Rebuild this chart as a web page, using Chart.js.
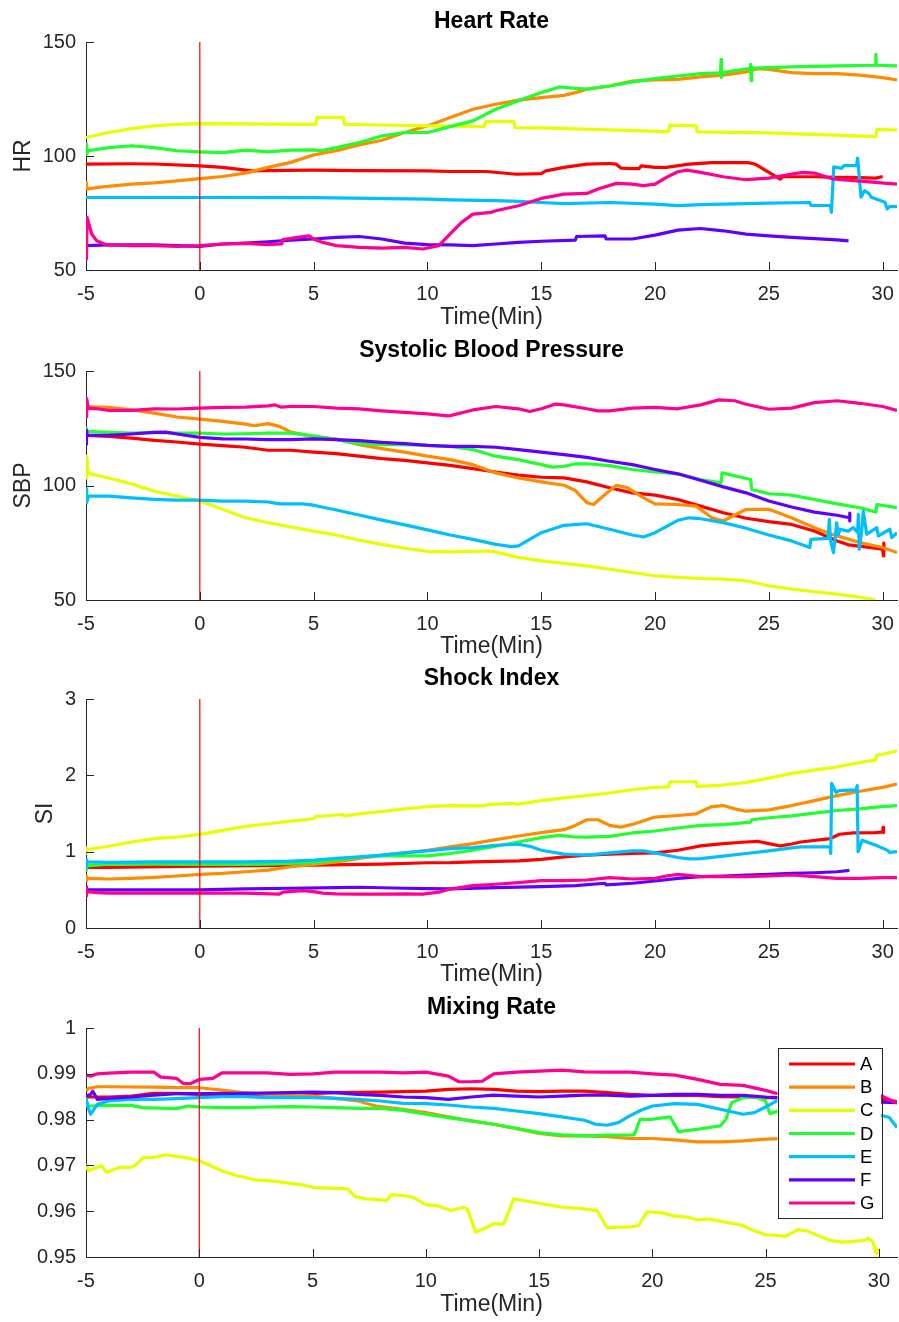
<!DOCTYPE html>
<html>
<head>
<meta charset="utf-8">
<script src="https://cdn.jsdelivr.net/npm/chart.js@4.4.0/dist/chart.umd.min.js"></script>
<style>
  body { margin: 0; background: #fff; overflow: hidden; }
  .panel { position: absolute; left: 0; }
</style>
</head>
<body>
<canvas id="hr" class="panel" width="899" height="329" style="top:0"></canvas>
<canvas id="sbp" class="panel" width="899" height="329" style="top:329px"></canvas>
<canvas id="si" class="panel" width="899" height="329" style="top:657px"></canvas>
<canvas id="mr" class="panel" width="899" height="336" style="top:986px"></canvas>
<script>
// ---- data ----
const seriesNames = ['A', 'B', 'C', 'D', 'E', 'F', 'G'];
const seriesColors = ['#ff0000', '#ff8c00', '#e6ff00', '#1eff2d', '#00bfff', '#6000ff', '#ff0090'];
const xTicks = [-5, 0, 5, 10, 15, 20, 25, 30];
const hrTicks = [50, 100, 150];
const sbpTicks = [50, 100, 150];
const siTicks = [0, 1, 2, 3];
const mrTicks = [0.95, 0.96, 0.97, 0.98, 0.99, 1];
const eventTime = 0;

// Heart Rate  [time, value]
const hrA = [[-5,96.4],[-3,96.6],[-2,96.5],[0,95.7],[1,95.0],[2.3,93.5],[2.8,93.6],[5,93.8],[7,93.6],[10,93.5],[11,93.2],[12.6,93.2],[13.9,92.0],[15,92.3],[15.2,93.5],[16,95.0],[17,96.4],[18,96.7],[18.3,96.4],[18.5,94.7],[19,94.5],[19.3,94.5],[19.4,95.7],[20,95.0],[20.5,95.0],[21.5,96.4],[22.5,97.1],[24.1,97.1],[24.4,96.4],[25,92.8],[25.5,89.9],[25.6,90.9],[27,90.9],[28,90.6],[29,90.5],[29.7,90.3],[30.0,91.0]];
const hrB = [[-5,89],[-4.95,85.5],[-4.5,86.2],[-3,87.7],[-2,88.2],[-1,89.1],[0,90.1],[1,91.0],[2,92.5],[3,95.0],[4,97.2],[5,100.5],[6,102.3],[7,104.9],[8,106.9],[9,110.3],[10,113.2],[11,116.9],[12,120.5],[13,122.7],[14,124.5],[15,125.6],[16,126.6],[16.5,127.8],[17,129.3],[18,130.7],[19,132.9],[20,133.4],[21,133.6],[22,134.7],[23,135.5],[24,136.9],[24.5,138.3],[25,138.0],[26,136.6],[27,136.1],[28,136.1],[29,135.5],[30,134.4],[30.63,133.4]];
const hrC = [[-5,108.1],[-4,110.3],[-3,112.0],[-2,113.2],[-1,113.9],[0,114.2],[5.1,113.9],[5.15,116.9],[6.3,116.9],[6.35,113.9],[8,113.6],[10,113.2],[12.5,112.9],[12.55,115.1],[13.8,115.1],[13.85,112.5],[15,112.3],[20.6,110.7],[20.65,113.5],[21.8,113.2],[21.85,110.6],[25,110.1],[29.7,108.5],[29.75,111.7],[30.63,111.4]];
const hrD = [[-5,105.2],[-4.97,100.8],[-4.9,102.3],[-4,103.7],[-3,104.5],[-2,103.7],[-1,102.3],[0,101.8],[1,101.5],[2,102.6],[3,101.8],[4,102.6],[5,102.7],[5.3,102.3],[6,103.7],[7,105.9],[8,108.8],[9,110.3],[10,110.3],[11,112.9],[12,115.4],[13,120.5],[14,124.2],[15,127.8],[15.8,130.3],[16.5,129.7],[17,129.3],[18,130.7],[19,132.5],[20,133.9],[21,135.1],[22,136.1],[22.88,136.5],[22.9,142.4],[22.92,134.5],[22.95,136.6],[24.18,138.5],[24.2,140.2],[24.22,133.0],[24.25,138.6],[25,138.8],[26,139.1],[28,139.5],[29.68,139.8],[29.7,144.6],[29.72,139.8],[30.63,139.5]];
const hrE = [[-5,81.8],[0,81.8],[5,81.7],[10,81.1],[11,80.8],[13,80.4],[14,80.1],[15,79.6],[16,79.1],[18,79.6],[20,78.9],[21,78.2],[22,78.7],[25,79.3],[26.8,79.6],[26.85,78.3],[27.7,78.3],[27.75,75.3],[27.85,95.2],[28.2,94.6],[28.3,95.8],[28.85,95.8],[28.9,99.1],[29.05,81.9],[29.2,84.8],[29.4,83.5],[29.5,81.9],[30.1,79.7],[30.2,76.8],[30.3,77.8],[30.63,77.8]];
const hrF = [[-5,60.7],[-4,61.0],[-2,61.0],[0,60.4],[1,61.4],[2,61.8],[3,62.4],[4,63.1],[5,63.6],[6,64.3],[7,64.7],[8,63.6],[9,61.8],[10,61.1],[11,61.0],[12,60.7],[13,61.4],[14,62.1],[15,62.6],[16.5,63.1],[16.55,64.7],[17.8,65.0],[17.85,63.6],[19,63.6],[20,65.3],[21,67.5],[22,68.2],[23,67.2],[24,65.7],[25,65.0],[26,64.3],[27,63.8],[28,63.2],[28.5,62.8]];
const hrG = [[-5,58],[-4.98,54.8],[-4.95,73.1],[-4.75,65.8],[-4.53,62.8],[-4.09,61.0],[-3,60.7],[-2,60.7],[-1,60.4],[0,60.7],[1,61.4],[2,61.7],[3,61.1],[3.6,61.4],[3.65,63.3],[4.3,64.3],[4.8,65.0],[5,63.6],[5.4,62.1],[6,60.7],[7,59.9],[8,59.6],[9,59.9],[9.8,59.2],[10.5,60.7],[11,65.8],[11.5,70.9],[12,74.5],[12.8,75.3],[13,76.0],[14,78.2],[15,81.4],[16,83.3],[17,83.6],[17.5,85.5],[18.3,88.0],[19,87.7],[19.5,87.0],[20,87.7],[20.5,90.6],[21,93.1],[21.4,93.8],[22,92.8],[23,90.9],[24,89.6],[25,90.3],[26,92.1],[26.5,92.8],[27,92.5],[27.8,89.9],[29,89.0],[30.63,87.7]];

// Systolic Blood Pressure
const sbpA = [[-5,121.9],[-4,121.4],[-3,120.7],[-2,119.7],[-1,119.0],[0,118.1],[1,117.4],[2,116.7],[3,115.4],[4,115.4],[5,114.6],[6,113.9],[7,112.8],[8,111.7],[9,111.0],[10,109.9],[11,108.8],[12,107.4],[13,105.9],[14,104.5],[15,103.6],[16,103.3],[17,101.6],[18,99.0],[19,96.8],[20,95.8],[21,93.9],[22,91.0],[23,88.1],[24,85.7],[25,84.2],[26,83.0],[27,80.1],[28,75.8],[28.5,74.1],[29.5,72.9],[30,72.2],[30.03,69.3],[30.05,74.8],[30.07,72.0]];
const sbpB = [[-5,134.5],[-4,134.1],[-3,133.0],[-2,131.6],[-1,129.9],[0,129.0],[1,128.0],[2,126.8],[2.4,126.1],[3,127.0],[3.5,125.8],[4,123.3],[5,121.4],[6,120.3],[7,117.8],[8,116.1],[9,114.6],[10,112.8],[11,111.3],[12,109.1],[13,105.5],[14,103.3],[15,101.6],[16,100.1],[16.5,97.8],[17,92.5],[17.3,91.7],[17.8,96.1],[18.3,100.1],[18.8,99.0],[19.5,94.6],[20,92.0],[21,91.7],[21.8,91.0],[22.5,85.9],[23,84.5],[23.5,87.1],[24,89.6],[25,89.6],[26,85.9],[27,81.6],[28,78.0],[29,75.1],[30,72.9],[30.63,70.7]];
const sbpC = [[-5,103.3],[-4.97,112.8],[-4.9,106.0],[-4.8,105.1],[-4,103.3],[-3,100.7],[-2,97.5],[-1,95.4],[0,93.2],[1,89.6],[2,85.9],[3,83.8],[4,81.9],[5,80.1],[6,78.4],[7,76.1],[8,74.3],[9,72.6],[10,71.2],[11,71.0],[12,71.2],[12.6,71.4],[13,71.0],[14,68.6],[15,67.1],[17,64.9],[19,62.0],[20,60.6],[21,59.9],[22,59.4],[23,59.1],[24,58.4],[25,56.2],[26,54.8],[27,53.6],[28,52.6],[29,51.2],[29.7,50.0]];
const sbpD = [[-5,125.0],[-4.97,123.6],[-4,123.2],[-3,122.9],[-2,123.2],[-1,122.9],[0,122.9],[1,122.5],[2,122.6],[3,122.9],[4,122.9],[5,121.7],[6,120.0],[7,118.3],[8,117.8],[9,117.8],[10,117.5],[11,117.1],[12,115.7],[13,112.8],[14,111.3],[15,109.1],[15.5,108.0],[16,108.4],[16.5,109.4],[17,109.5],[18,108.7],[19,107.0],[20,105.9],[21,105.1],[22,102.6],[22.9,101.2],[22.95,105.5],[24.2,102.6],[24.25,98.3],[25,96.4],[26,95.8],[27,93.9],[28,92.0],[29,90.3],[29.7,88.4],[29.75,91.7],[30.63,90.3]];
const sbpE = [[-5,95.4],[-4.98,98.5],[-4.96,92.5],[-4.9,95.4],[-4,95.4],[-3,94.6],[-2,93.9],[-1,93.6],[0,93.6],[1,93.2],[2,93.2],[3,92.8],[3.5,92.0],[4.5,92.0],[5,91.4],[6,89.3],[7,87.1],[8,84.9],[9,82.8],[10,80.6],[11,78.4],[12,76.5],[13,74.3],[13.7,73.3],[14,73.6],[15,79.4],[16,82.6],[17,83.3],[18,80.9],[19,78.4],[19.5,77.5],[20,79.4],[21,84.8],[21.5,85.9],[22,85.5],[23,83.8],[24,81.3],[25,78.4],[26,75.8],[26.8,72.9],[26.85,76.5],[27.6,76.9],[27.66,85.2],[27.7,76.5],[27.84,70.7],[27.98,83.7],[28.05,78.5],[28.13,80.9],[28.49,80.1],[28.71,81.6],[28.9,79.5],[28.93,87.4],[28.97,72.2],[29.07,79.4],[29.15,88.8],[29.3,78.7],[29.74,81.6],[29.81,78.0],[30.32,80.9],[30.4,77.2],[30.63,79.4]];
const sbpF = [[-5,118.0],[-4.98,124.0],[-4.95,121.9],[-4,121.9],[-3,122.5],[-2,123.2],[-1.5,123.3],[-1,122.5],[0,121.0],[1,120.4],[2,120.3],[3,120.0],[4,120.0],[5,120.4],[6,120.0],[7,119.6],[8,118.8],[9,118.3],[10,117.5],[11,117.1],[12,117.1],[13,116.7],[14,115.7],[15,114.6],[16,113.5],[17,112.3],[18,110.6],[19,109.1],[20,107.0],[21,105.1],[22,102.3],[23,99.4],[24,96.8],[25,93.2],[26,90.6],[27,88.4],[28,87.0],[28.54,85.9],[28.55,88.0],[28.56,84.5]];
const sbpG = [[-5,130.0],[-4.97,138.0],[-4.9,133.8],[-4.5,133.5],[-4,132.8],[-3,132.8],[-2,133.5],[-1,133.4],[0,133.8],[1,134.1],[2,134.2],[3,134.8],[3.3,135.2],[3.6,134.2],[4,134.6],[5,134.5],[6,133.8],[7,133.5],[8,132.6],[9,131.9],[10,131.3],[10.9,130.4],[11,130.5],[12,133.0],[13,134.5],[14,133.5],[14.5,132.3],[15,133.5],[15.6,135.5],[16,135.2],[17,133.5],[17.5,132.6],[18,132.6],[19,133.8],[20,134.1],[21,133.5],[22,135.2],[22.8,137.4],[23.5,137.0],[24,135.5],[25,133.3],[26,133.8],[27,136.2],[28,137.0],[29,135.9],[30,134.5],[30.63,132.8]];

// Shock Index
const siA = [[-5,0.794],[-4,0.794],[0,0.811],[5,0.824],[8,0.837],[10,0.855],[11,0.857],[12,0.867],[14,0.880],[15,0.898],[16,0.932],[17,0.954],[18,0.967],[19,0.976],[20,0.984],[21,1.019],[22,1.075],[23,1.106],[24,1.127],[24.5,1.136],[25,1.106],[25.5,1.075],[26,1.10],[26.4,1.127],[27.7,1.172],[28.1,1.228],[28.7,1.245],[29.7,1.250],[30,1.258],[30.02,1.32],[30.04,1.25]];
const siB = [[-5,0.62],[-4.98,0.68],[-4.95,0.651],[-4,0.642],[-3,0.651],[-2,0.664],[-1,0.681],[0,0.703],[1,0.716],[2,0.737],[3,0.759],[4,0.802],[5,0.833],[6,0.867],[7,0.911],[8,0.954],[9,0.984],[10,1.019],[11,1.062],[12,1.106],[13,1.158],[14,1.205],[15,1.249],[16,1.288],[16.5,1.344],[17,1.418],[17.5,1.418],[18,1.344],[18.5,1.322],[19,1.357],[20,1.453],[21,1.474],[21.8,1.496],[22.5,1.591],[23,1.604],[23.5,1.561],[24,1.530],[25,1.548],[26,1.604],[27,1.669],[28,1.734],[29,1.791],[30,1.843],[30.63,1.886]];
const siC = [[-5,0.98],[-4.98,1.05],[-4.95,1.028],[-4,1.071],[-3,1.127],[-2,1.171],[-1,1.192],[0,1.227],[1,1.279],[2,1.331],[3,1.366],[4,1.401],[5,1.431],[5.1,1.461],[6.3,1.487],[6.35,1.468],[7,1.496],[8,1.526],[9,1.561],[10,1.591],[11,1.604],[12.5,1.600],[12.6,1.617],[13.8,1.634],[13.9,1.620],[15,1.669],[16,1.704],[17,1.734],[18,1.769],[19,1.812],[20,1.843],[20.6,1.850],[20.65,1.916],[21.8,1.916],[21.85,1.856],[23,1.873],[24,1.908],[25,1.964],[26,2.025],[27,2.068],[28,2.111],[29,2.168],[29.7,2.202],[29.75,2.263],[30,2.276],[30.63,2.319]];
const siD = [[-5,0.76],[-4.98,0.87],[-4.95,0.815],[-4,0.837],[-2,0.837],[0,0.833],[2,0.833],[3,0.837],[4,0.846],[5,0.859],[6,0.889],[7,0.924],[8,0.945],[9,0.945],[10,0.945],[11,0.976],[12,1.019],[13,1.071],[14,1.127],[15,1.184],[15.8,1.214],[16.5,1.192],[17,1.190],[18,1.201],[19,1.245],[20,1.271],[21,1.310],[22,1.344],[23,1.353],[24.2,1.388],[24.25,1.418],[25,1.444],[26,1.470],[27,1.504],[28,1.539],[29,1.561],[29.7,1.583],[30.63,1.604]];
const siE = [[-5,0.80],[-4.98,0.90],[-4.95,0.867],[-4,0.859],[-2,0.867],[0,0.867],[2,0.867],[4,0.876],[5,0.889],[6,0.911],[7,0.932],[8,0.954],[9,0.984],[10,1.010],[11,1.041],[12,1.054],[13,1.084],[14,1.097],[14.5,1.070],[15,1.019],[16,0.967],[17,0.954],[18,0.984],[19,1.010],[19.5,1.010],[20,0.984],[21,0.924],[21.5,0.906],[22,0.910],[23,0.941],[24,0.976],[25,1.010],[26,1.049],[26.4,1.062],[27.69,1.062],[27.72,0.976],[27.76,1.895],[27.95,1.778],[28.1,1.80],[28.83,1.809],[28.88,1.865],[28.92,1.0],[29.1,1.15],[29.7,1.085],[30.2,1.02],[30.3,0.99],[30.63,1.0]];
const siF = [[-5,0.47],[-4.98,0.54],[-4.95,0.499],[-2,0.499],[0,0.499],[2,0.512],[4,0.521],[6,0.529],[7,0.534],[9,0.521],[10,0.516],[11,0.512],[13,0.529],[15,0.542],[16.5,0.555],[17.8,0.586],[17.85,0.565],[19,0.586],[20,0.616],[21,0.651],[22,0.672],[23,0.681],[24,0.694],[25,0.703],[26,0.716],[27,0.724],[28,0.737],[28.54,0.755]];
const siG = [[-5,0.42],[-4.98,0.52],[-4.95,0.477],[-4.5,0.464],[-4,0.456],[-2,0.456],[0,0.456],[2,0.456],[3.5,0.443],[3.65,0.47],[4.5,0.490],[5,0.477],[5.4,0.456],[6,0.447],[7,0.443],[8,0.443],[9,0.447],[9.8,0.443],[10.5,0.469],[11,0.51],[12,0.555],[13,0.573],[14,0.594],[15,0.620],[16,0.620],[17,0.629],[18,0.659],[19,0.642],[20,0.651],[20.5,0.681],[21,0.703],[22,0.672],[23,0.672],[24,0.672],[25,0.681],[26,0.694],[27,0.672],[28,0.651],[29,0.651],[30,0.659],[30.63,0.659]];

// Mixing Rate
const mrA = [[-5,0.98493],[-4,0.98493],[-3,0.98514],[-2,0.98572],[-1,0.98572],[0,0.98551],[2,0.98536],[4,0.98551],[6,0.98587],[8,0.98601],[10,0.98623],[11,0.98659],[12,0.98674],[13,0.98659],[14,0.98623],[15,0.98609],[16,0.98623],[17,0.98623],[18,0.98587],[19,0.98551],[20,0.98529],[22,0.98529],[23,0.98500],[24,0.98493],[25,0.98478],[26,0.98470],[28,0.98460],[30.1,0.98450],[30.8,0.98390]];
const mrB = [[-5,0.98620],[-4.9,0.98681],[-4.5,0.98717],[-4,0.98717],[-2,0.98710],[-1,0.98696],[0,0.98696],[1,0.98645],[2,0.98587],[3,0.98551],[4,0.98536],[5,0.98514],[6,0.98464],[7,0.98406],[7.8,0.98297],[9,0.98225],[10,0.98152],[11,0.98058],[12,0.97971],[13,0.97899],[14,0.97804],[15,0.97696],[16,0.97645],[17,0.97645],[18,0.97630],[19,0.97587],[20,0.97587],[21,0.97558],[22,0.97514],[23,0.97514],[24,0.97536],[25,0.97572],[26,0.97590],[27,0.97610]];
const mrC = [[-5,0.97029],[-4.9,0.96884],[-4.7,0.96920],[-4.31,0.96993],[-4.1,0.96848],[-3.5,0.96957],[-3,0.96957],[-2.76,0.97029],[-2.47,0.97174],[-2,0.97174],[-1.49,0.97232],[-1,0.97196],[-0.49,0.97160],[0,0.97101],[0.5,0.96993],[1,0.96884],[1.5,0.96797],[2,0.96739],[2.5,0.96681],[3,0.96667],[3.5,0.96645],[4,0.96609],[4.5,0.96580],[5,0.96522],[6,0.96500],[6.57,0.96486],[6.87,0.96319],[7.38,0.96268],[8,0.96254],[8.26,0.96232],[8.49,0.96362],[9,0.96341],[9.44,0.96304],[10,0.96145],[10.47,0.96123],[11.09,0.96014],[11.68,0.96087],[11.83,0.96051],[12.2,0.95543],[12.56,0.95616],[13.0,0.95725],[13.44,0.95725],[13.88,0.96268],[14.47,0.96217],[15,0.96174],[16,0.96087],[17,0.96051],[17.56,0.96014],[18.0,0.95638],[18.58,0.95652],[19.0,0.95652],[19.39,0.95688],[19.76,0.95978],[20,0.95978],[20.49,0.95957],[21,0.95891],[21.52,0.95870],[22,0.95812],[22.47,0.95833],[23,0.95783],[24,0.95688],[24.46,0.95580],[25,0.95486],[25.53,0.95471],[25.85,0.95449],[26.44,0.95601],[26.85,0.95565],[27.85,0.95362],[28.35,0.95326],[28.85,0.95341],[29.38,0.95362],[29.52,0.95413],[29.74,0.95326],[29.89,0.95072],[29.99,0.95196]];
const mrD = [[-5,0.98297],[-4.8,0.98297],[-4,0.98312],[-3,0.98312],[-2.5,0.98261],[-1,0.98239],[-0.5,0.98297],[0,0.98275],[1,0.98261],[2,0.98261],[3,0.98275],[4,0.98283],[5,0.98275],[6,0.98261],[7,0.98246],[8,0.98246],[9,0.98203],[10,0.98116],[11,0.98043],[12,0.97971],[13,0.97899],[14,0.97812],[15,0.97717],[16,0.97667],[17,0.97645],[18,0.97659],[19.2,0.97667],[19.46,0.98007],[20,0.98007],[20.79,0.98058],[21.15,0.97739],[22,0.97790],[23,0.97862],[23.25,0.98007],[23.5,0.98370],[24,0.98478],[24.6,0.98493],[25,0.98406],[25.19,0.98130],[25.5,0.98180],[27,0.98350],[29,0.98500],[30.1,0.98565]];
const mrE = [[-5,0.98478],[-4.9,0.98260],[-4.8,0.98116],[-4.5,0.98333],[-4,0.98406],[-3,0.98442],[-2,0.98442],[-1,0.98457],[0,0.98478],[1,0.98500],[2,0.98500],[3,0.98478],[4,0.98478],[5,0.98478],[6,0.98464],[7,0.98442],[8,0.98406],[9,0.98355],[10,0.98348],[11,0.98319],[12,0.98275],[13,0.98246],[14,0.98188],[15,0.98130],[16,0.98058],[17,0.97986],[17.5,0.97899],[18,0.97877],[18.5,0.97935],[19,0.98080],[19.5,0.98203],[20,0.98297],[21,0.98348],[22,0.98333],[23,0.98225],[24,0.98116],[24.5,0.98152],[25,0.98275],[25.53,0.98420],[27,0.98550],[28.5,0.98450],[29.5,0.98280],[30.1,0.98090],[30.45,0.98050],[30.8,0.97830]];
const mrF = [[-5,0.98514],[-4.8,0.98550],[-4.7,0.98620],[-4.5,0.98442],[-4,0.98464],[-3,0.98493],[-2,0.98536],[-1,0.98565],[0,0.98565],[2,0.98572],[4,0.98587],[5,0.98601],[6,0.98587],[7,0.98551],[8,0.98529],[9,0.98493],[10,0.98478],[11,0.98442],[12,0.98493],[13,0.98536],[14,0.98514],[15,0.98493],[16,0.98514],[17,0.98536],[18,0.98536],[19,0.98514],[20,0.98529],[21,0.98551],[22,0.98551],[23,0.98529],[24,0.98529],[25,0.98493],[27,0.98450],[29,0.98400],[30.1,0.98380],[30.8,0.98370]];
const mrG = [[-5,0.98971],[-4.8,0.98949],[-4.5,0.99000],[-4,0.99014],[-3,0.99036],[-2,0.99036],[-1.7,0.98928],[-1,0.98899],[-0.7,0.98790],[-0.4,0.98783],[0,0.98877],[0.6,0.98899],[1,0.99022],[2,0.99022],[3,0.99022],[4,0.98986],[5,0.99000],[6,0.99036],[7,0.99036],[8,0.99036],[9,0.99022],[10,0.99036],[11,0.98949],[11.46,0.98826],[12,0.98826],[12.5,0.98841],[13,0.99000],[14,0.99036],[15,0.99058],[16,0.99080],[17,0.99043],[18,0.99036],[19,0.99036],[20,0.99000],[21,0.98971],[22,0.98877],[23,0.98768],[24,0.98746],[25,0.98638],[25.53,0.98565],[27,0.98540],[29,0.98530],[30.1,0.98520],[30.8,0.98360]];

// ---- drawing ----
const FONT = '"Liberation Sans", Arial, Helvetica, sans-serif';
const AXIS = '#262626';

// MATLAB-style ticks pointing into the plot
const inwardTicks = {
  id: 'inwardTicks',
  afterDatasetsDraw(chart) {
    const {ctx, chartArea, scales} = chart;
    ctx.save();
    ctx.strokeStyle = AXIS;
    ctx.lineWidth = 1;
    ctx.beginPath();
    scales.x.ticks.forEach(t => {
      const px = Math.round(scales.x.getPixelForValue(t.value)) + 0.5;
      ctx.moveTo(px, chartArea.bottom);
      ctx.lineTo(px, chartArea.bottom - 8);
    });
    scales.y.ticks.forEach(t => {
      const py = Math.round(scales.y.getPixelForValue(t.value)) + 0.5;
      ctx.moveTo(chartArea.left, py);
      ctx.lineTo(chartArea.left + 8, py);
    });
    ctx.stroke();
    ctx.restore();
  }
};

// boxed legend inside the last panel
const boxLegend = {
  id: 'boxLegend',
  afterDraw(chart) {
    const {ctx, chartArea} = chart;
    const right = chartArea.right - 16;
    const left = right - 103.5;
    const top = chartArea.top + 20;
    const h = 169.5;
    ctx.save();
    ctx.fillStyle = '#fff';
    ctx.fillRect(left, top, right - left, h);
    ctx.strokeStyle = AXIS;
    ctx.lineWidth = 1;
    ctx.strokeRect(Math.round(left) + 0.5, Math.round(top) + 0.5, Math.round(right - left), Math.round(h));
    ctx.font = '18.5px ' + FONT;
    ctx.textBaseline = 'middle';
    seriesNames.forEach((name, i) => {
      const y = top + 16 + i * 23.17;
      ctx.strokeStyle = seriesColors[i];
      ctx.lineWidth = 3.2;
      ctx.beginPath();
      ctx.moveTo(left + 11.5, y);
      ctx.lineTo(left + 77.5, y);
      ctx.stroke();
      ctx.fillStyle = '#000';
      ctx.fillText(name, left + 82.5, y + 1);
    });
    ctx.restore();
  }
};

function buildPanel(id, cfg) {
  const datasets = cfg.series.map((s, i) => ({
    label: seriesNames[i],
    data: s.map(p => ({x: p[0], y: p[1]})),
    borderColor: seriesColors[i],
    backgroundColor: seriesColors[i],
    borderWidth: 3.2,
    pointRadius: 0,
    tension: 0,
    fill: false,
    borderJoinStyle: 'round',
    order: cfg.series.length - i
  }));
  datasets.push({
    label: 'event',
    data: [{x: eventTime, y: cfg.yTicks[0]}, {x: eventTime, y: cfg.yTicks[cfg.yTicks.length - 1]}],
    borderColor: '#f00000',
    borderWidth: 1.2,
    pointRadius: 0,
    fill: false,
    order: -1
  });

  const plugins = [inwardTicks];
  if (cfg.legend) plugins.push(boxLegend);

  new Chart(document.getElementById(id), {
    type: 'line',
    data: {datasets: datasets},
    plugins: plugins,
    options: {
      responsive: false,
      animation: false,
      devicePixelRatio: 1,
      layout: {padding: {left: 0, right: 2, top: 0, bottom: cfg.bottomPad}},
      plugins: {
        legend: {display: false},
        tooltip: {enabled: false},
        title: {
          display: true,
          text: cfg.title,
          fullSize: false,
          color: '#000',
          font: {family: FONT, size: 23, weight: 'bold', lineHeight: 1},
          padding: {top: 10, bottom: 9}
        }
      },
      scales: {
        x: {
          type: 'linear',
          min: -5,
          max: cfg.xMax,
          afterBuildTicks: s => { s.ticks = xTicks.map(v => ({value: v})); },
          afterFit: s => { s.height = cfg.xBox; s.paddingLeft = 0; s.paddingRight = 0; },
          grid: {display: false, drawTicks: false},
          border: {display: true, color: AXIS, width: 1},
          ticks: {
            color: AXIS, font: {family: FONT, size: 20}, padding: 12,
            maxRotation: 0, autoSkip: false, callback: v => String(v)
          },
          title: {
            display: true, text: 'Time(Min)', color: AXIS,
            font: {family: FONT, size: 23, lineHeight: 1}, padding: {top: 0, bottom: 0}
          }
        },
        y: {
          type: 'linear',
          min: cfg.yTicks[0],
          max: cfg.yTicks[cfg.yTicks.length - 1],
          afterBuildTicks: s => { s.ticks = cfg.yTicks.map(v => ({value: v})); },
          afterFit: s => { s.width = 86; s.paddingTop = 0; s.paddingBottom = 0; },
          grid: {display: false, drawTicks: false},
          border: {display: true, color: AXIS, width: 1},
          ticks: {color: AXIS, font: {family: FONT, size: 20}, padding: 10, autoSkip: false, callback: v => String(v)},
          title: {
            display: !!cfg.yLabel, text: cfg.yLabel || '', color: AXIS,
            font: {family: FONT, size: 23, lineHeight: 1}, padding: {top: cfg.yLabelPad, bottom: 0}
          }
        }
      }
    }
  });
}

buildPanel('hr',  {title: 'Heart Rate', yLabel: 'HR', yLabelPad: 12, yTicks: hrTicks, xMax: 30.63, xBox: 59, bottomPad: 0,
  series: [hrA, hrB, hrC, hrD, hrE, hrF, hrG]});
buildPanel('sbp', {title: 'Systolic Blood Pressure', yLabel: 'SBP', yLabelPad: 12, yTicks: sbpTicks, xMax: 30.63, xBox: 58, bottomPad: 0,
  series: [sbpA, sbpB, sbpC, sbpD, sbpE, sbpF, sbpG]});
buildPanel('si',  {title: 'Shock Index', yLabel: 'SI', yLabelPad: 34, yTicks: siTicks, xMax: 30.63, xBox: 58, bottomPad: 0,
  series: [siA, siB, siC, siD, siE, siF, siG]});
buildPanel('mr',  {title: 'Mixing Rate', yLabel: '', yLabelPad: 0, yTicks: mrTicks, xMax: 30.8, xBox: 59, bottomPad: 6, legend: true,
  series: [mrA, mrB, mrC, mrD, mrE, mrF, mrG]});
</script>
</body>
</html>
